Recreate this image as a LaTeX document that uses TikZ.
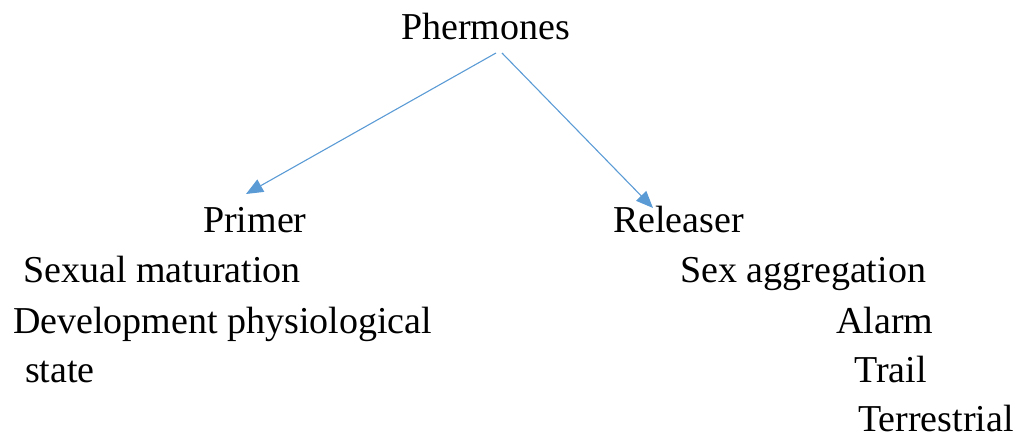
\documentclass[tikz,border=0pt]{standalone}
\usepackage{fontspec}
\setmainfont{Liberation Serif}
\usetikzlibrary{arrows.meta}

\definecolor{linkblue}{HTML}{5B9BD5}

\begin{document}
\begin{tikzpicture}[x=1pt, y=-1pt,
    every node/.style={anchor=base west, inner sep=0pt, font=\fontsize{38}{45}\selectfont},
    link/.style={draw=linkblue, line width=1.1pt, -{Triangle[length=17pt,width=14pt,fill=linkblue]}}]
          \useasboundingbox (0,0) rectangle (1024,435);

          \node (ph) at (401,40) {Phermones};
          \node (primer) at (203,233) {Primer};
          \node (releaser) at (613,233) {Releaser};

          \node (sexmat) at (23,283) {Sexual maturation};
          \node (devphys) at (13,333) {Development physiological};
          \node (state) at (25,382) {state};

          \node (sexagg) at (680,283) {Sex aggregation};
          \node (alarm) at (836,333) {Alarm};
          \node (trail) at (854,382) {Trail};
          \node (terr) at (858,431) {Terrestrial};

          \coordinate (ph-l) at (496,53);
          \coordinate (ph-r) at (502,53);
          \coordinate (primer-in) at (246,194);
          \coordinate (releaser-in) at (653,208);

          \draw[link] (ph-l) -- (primer-in);
          \draw[link] (ph-r) -- (releaser-in);
        \end{tikzpicture}
\end{document}
